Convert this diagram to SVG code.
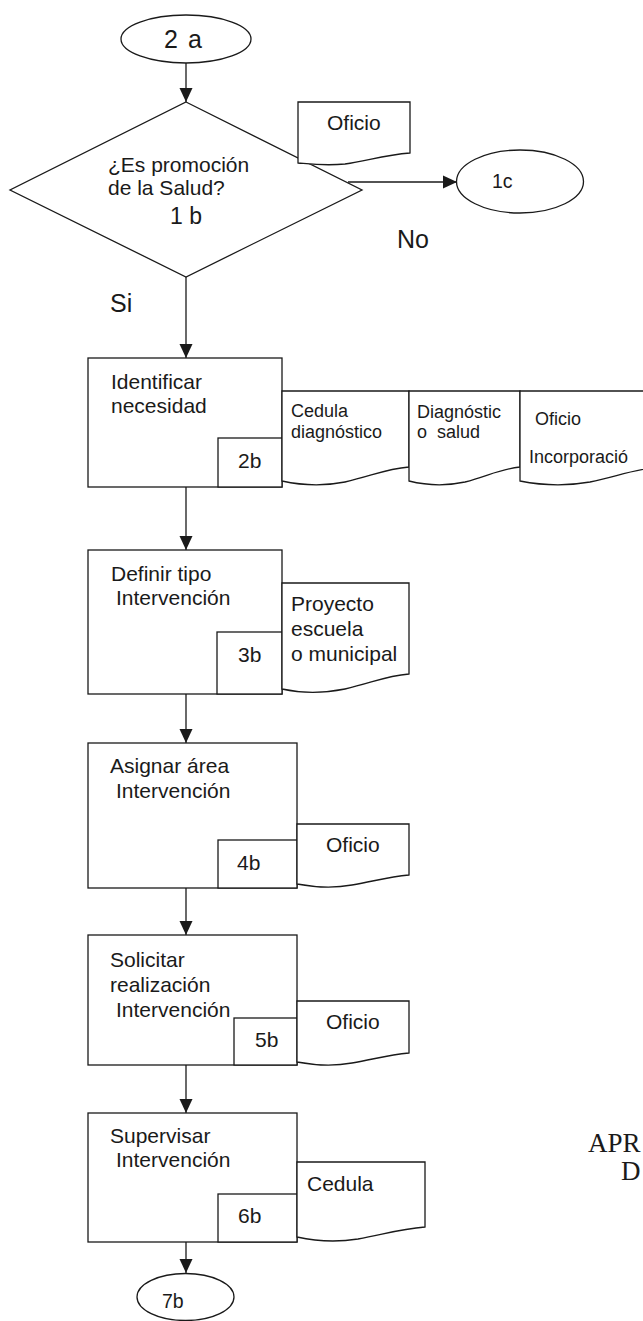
<svg xmlns="http://www.w3.org/2000/svg" width="643" height="1321" viewBox="0 0 643 1321">
  <style>
    .shape { fill: #ffffff; stroke: #1a1a1a; stroke-width: 1.3; }
    .line { fill: none; stroke: #1a1a1a; stroke-width: 1.3; }
    text { font-family: "Liberation Sans", Arial, sans-serif; fill: #1a1a1a; }
    .t { font-size: 21px; }
    .s { font-size: 18px; }
    .c { font-size: 19.5px; }
    .big { font-size: 23px; }
    .lbl { font-size: 25px; }
    .serif { font-family: "Liberation Serif", "Times New Roman", serif; font-size: 27px; }
  </style>
  <defs>
    <marker id="arrow" markerUnits="userSpaceOnUse" markerWidth="16" markerHeight="16" refX="14" refY="7" orient="auto">
      <path d="M0,0.5 L14,7 L0,13.5 Z" fill="#1a1a1a"/>
    </marker>
  </defs>

  <!-- connectors -->
  <g id="connectors">
    <line class="line" x1="186" y1="63" x2="186" y2="102" marker-end="url(#arrow)"/>
    <line class="line" x1="348" y1="182" x2="457" y2="182" marker-end="url(#arrow)"/>
    <line class="line" x1="186" y1="277" x2="186" y2="358" marker-end="url(#arrow)"/>
    <line class="line" x1="186" y1="487" x2="186" y2="550" marker-end="url(#arrow)"/>
    <line class="line" x1="186" y1="694" x2="186" y2="743" marker-end="url(#arrow)"/>
    <line class="line" x1="186" y1="888" x2="186" y2="935" marker-end="url(#arrow)"/>
    <line class="line" x1="186" y1="1065" x2="186" y2="1113" marker-end="url(#arrow)"/>
    <line class="line" x1="186" y1="1242" x2="186" y2="1273" marker-end="url(#arrow)"/>
  </g>

  <!-- start connector 2 a -->
  <g id="start-2a">
    <ellipse class="shape" cx="186" cy="39" rx="65" ry="24"/>
    <text class="lbl" x="183" y="48" text-anchor="middle" word-spacing="3">2 a</text>
  </g>

  <!-- decision 1 b -->
  <g id="decision-1b">
    <polygon class="shape" points="186,102 362,190 186,277 10,190"/>
    <text class="t" x="108" y="172">¿Es promoción</text>
    <text class="t" x="108" y="195">de la Salud?</text>
    <text class="big" x="170" y="224">1 b</text>
  </g>

  <g id="doc-oficio-1b">
    <path class="shape" d="M298,102 H410 V153 C385,155 370,160 345,164 C325,166 310,164 298,163 Z"/>
    <text class="t" x="327" y="130">Oficio</text>
  </g>

  <g id="end-1c">
    <ellipse class="shape" cx="520" cy="181.5" rx="63.5" ry="31.5"/>
    <text class="c" x="492" y="188">1c</text>
  </g>

  <g id="label-no">
    <text class="lbl" x="397" y="248">No</text>
  </g>
  <g id="label-si">
    <text class="lbl" x="110" y="312">Si</text>
  </g>

  <!-- step 2b -->
  <g id="step-2b">
    <rect class="shape" x="88" y="358" width="194" height="129"/>
    <rect class="shape" x="218" y="438" width="64" height="49"/>
    <text class="t" x="111" y="389">Identificar</text>
    <text class="t" x="111" y="413">necesidad</text>
    <text class="t" x="238" y="468">2b</text>
  </g>

  <g id="doc-cedula-diagnostico">
    <path class="shape" d="M282,391 H409 V467 C385,469 372,476 345,482 C320,487 300,485 282,481 Z"/>
    <text class="s" x="291" y="417">Cedula</text>
    <text class="s" x="291" y="438">diagnóstico</text>
  </g>
  <g id="doc-diagnostico-salud">
    <path class="shape" d="M409,391 H520 V467 C500,469 488,476 465,482 C442,487 425,485 409,481 Z"/>
    <text class="s" x="417" y="418">Diagnóstic</text>
    <text class="s" x="417" y="438" xml:space="preserve">o  salud</text>
  </g>
  <g id="doc-oficio-incorporacion">
    <path class="shape" d="M520,391 H660 V467 C635,469 618,476 590,482 C562,487 540,485 520,481 Z"/>
    <text class="s" x="535" y="425">Oficio</text>
    <text class="s" x="529" y="463">Incorporació</text>
  </g>

  <!-- step 3b -->
  <g id="step-3b">
    <rect class="shape" x="88" y="550" width="194" height="144"/>
    <rect class="shape" x="217" y="632" width="65" height="62"/>
    <text class="t" x="111" y="581">Definir tipo</text>
    <text class="t" x="116" y="605">Intervención</text>
    <text class="t" x="238" y="662">3b</text>
  </g>
  <g id="doc-proyecto">
    <path class="shape" d="M282,583 H409 V674 C385,676 372,683 345,689 C320,694 300,693 282,689 Z"/>
    <text class="t" x="291" y="611">Proyecto</text>
    <text class="t" x="291" y="636">escuela</text>
    <text class="t" x="291" y="661">o municipal</text>
  </g>

  <!-- step 4b -->
  <g id="step-4b">
    <rect class="shape" x="88" y="743" width="209" height="145"/>
    <rect class="shape" x="218" y="840" width="79" height="48"/>
    <text class="t" x="110" y="773">Asignar área</text>
    <text class="t" x="116" y="798">Intervención</text>
    <text class="t" x="237" y="870">4b</text>
  </g>
  <g id="doc-oficio-4b">
    <path class="shape" d="M297,824 H409 V875 C388,877 375,881 352,885 C330,889 313,887 297,884 Z"/>
    <text class="t" x="326" y="852">Oficio</text>
  </g>

  <!-- step 5b -->
  <g id="step-5b">
    <rect class="shape" x="88" y="935" width="209" height="130"/>
    <rect class="shape" x="234" y="1018" width="63" height="47"/>
    <text class="t" x="110" y="967">Solicitar</text>
    <text class="t" x="110" y="992">realización</text>
    <text class="t" x="116" y="1017">Intervención</text>
    <text class="t" x="255" y="1047">5b</text>
  </g>
  <g id="doc-oficio-5b">
    <path class="shape" d="M297,1001 H409 V1053 C388,1055 375,1059 352,1063 C330,1067 313,1065 297,1062 Z"/>
    <text class="t" x="326" y="1029">Oficio</text>
  </g>

  <!-- step 6b -->
  <g id="step-6b">
    <rect class="shape" x="88" y="1113" width="209" height="129"/>
    <rect class="shape" x="218" y="1194" width="79" height="48"/>
    <text class="t" x="110" y="1143">Supervisar</text>
    <text class="t" x="116" y="1167">Intervención</text>
    <text class="t" x="238" y="1223">6b</text>
  </g>
  <g id="doc-cedula-6b">
    <path class="shape" d="M297,1162 H425 V1227 C400,1229 385,1234 358,1239 C333,1243 315,1241 297,1237 Z"/>
    <text class="t" x="307" y="1191">Cedula</text>
  </g>

  <!-- end connector 7b -->
  <g id="end-7b">
    <ellipse class="shape" cx="185.5" cy="1297" rx="48.5" ry="23.5"/>
    <text class="c" x="162" y="1308">7b</text>
  </g>

  <!-- margin note at the right edge -->
  <g id="margin-note">
    <text class="serif" x="588" y="1152">APR</text>
    <text class="serif" x="621" y="1180">D</text>
  </g>
</svg>
